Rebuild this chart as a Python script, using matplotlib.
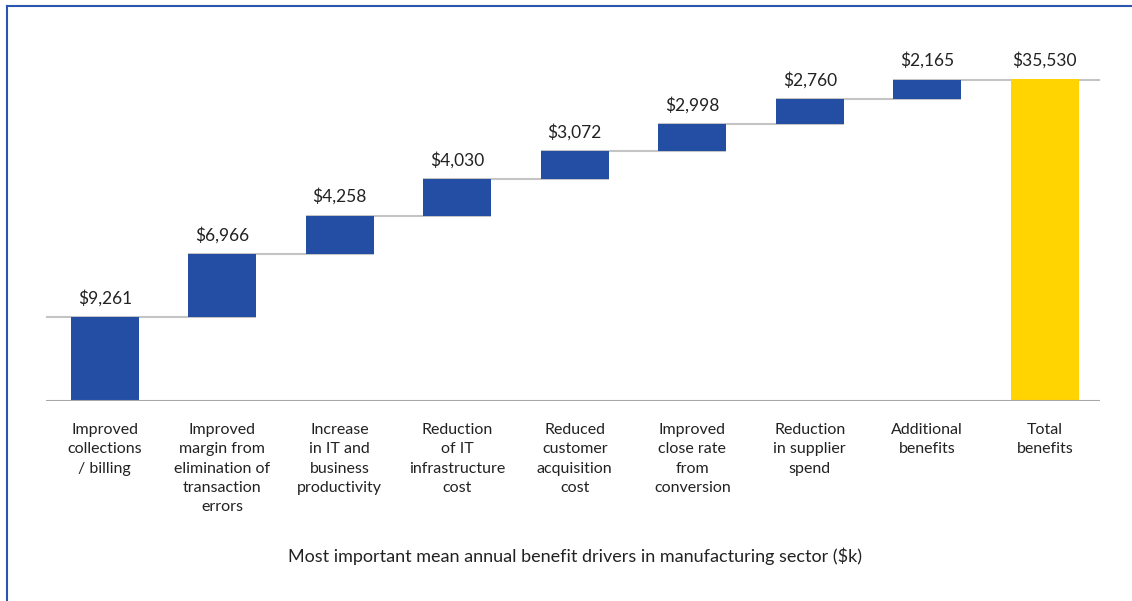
import numpy as np
import matplotlib.pyplot as plt
from matplotlib.lines import Line2D

categories = ["Improved\ncollections\n/ billing",
              "Improved\nmargin from\nelimination of\ntransaction\nerrors",
              "Increase\nin IT and\nbusiness\nproductivity",
              "Reduction\nof IT\ninfrastructure\ncost",
              "Reduced\ncustomer\nacquisition\ncost",
              "Improved\nclose rate\nfrom\nconversion",
              "Reduction\nin supplier\nspend",
              "Additional\nbenefits",
              "Total\nbenefits"]
values = [9261, 6966, 4258, 4030, 3072, 2998, 2760, 2165]
total = 35530

blue = '#244ea3'
yellow = '#ffd400'
grey = '#c4c4c4'

plt.rcParams['font.family'] = ['Lato', 'DejaVu Sans']

fig = plt.figure(figsize=(11.32, 6.01), dpi=100)
ax = fig.add_axes([46/1132, 200/601, 1054/1132, 362/601])

n = len(values)
x = np.arange(n + 1)
bw = 0.58
tops = np.cumsum(values)
bottoms = tops - np.array(values)

# connector lines (under bars)
for i in range(n):
    x0 = i - bw/2 if i > 0 else -0.5
    x1 = i + 1 + bw/2 if i < n - 1 else n + 0.5
    ax.hlines(tops[i], x0, x1, color=grey, lw=1.5, zorder=1)

ax.bar(x[:n], values, bottom=bottoms, width=bw, color=blue, zorder=2)
ax.bar(x[n], total, width=bw, color=yellow, zorder=2)

for i in range(n):
    ax.text(x[i], tops[i] + 1200, f"${values[i]:,}", ha='center', va='bottom',
            fontsize=12.5, color='#222222')
ax.text(x[n], total + 1200, f"${total:,}", ha='center', va='bottom',
        fontsize=12.5, color='#222222')

ax.axhline(0, color='#a8a8a8', lw=1.5, zorder=3)
ax.set_xlim(-0.5, n + 0.47)
ax.set_ylim(0, 40000)
ax.set_xticks(x)
ax.set_xticklabels(categories, fontsize=11.5, color='#222222', linespacing=1.47)
ax.tick_params(axis='x', length=0, pad=16)
ax.set_yticks([])
for s in ax.spines.values():
    s.set_visible(False)

fig.text(575/1132, 1 - 556/601, "Most important mean annual benefit drivers in manufacturing sector ($k)",
         ha='center', va='center', fontsize=13, color='#222222')

# frame lines at top and left
fig.add_artist(Line2D([7/1132, 1], [1 - 6/601, 1 - 6/601], color='#2a55b0', lw=1.5))
fig.add_artist(Line2D([7/1132, 7/1132], [0, 1 - 6/601], color='#2a55b0', lw=1.5))

fig.savefig('out.png', dpi=100)
